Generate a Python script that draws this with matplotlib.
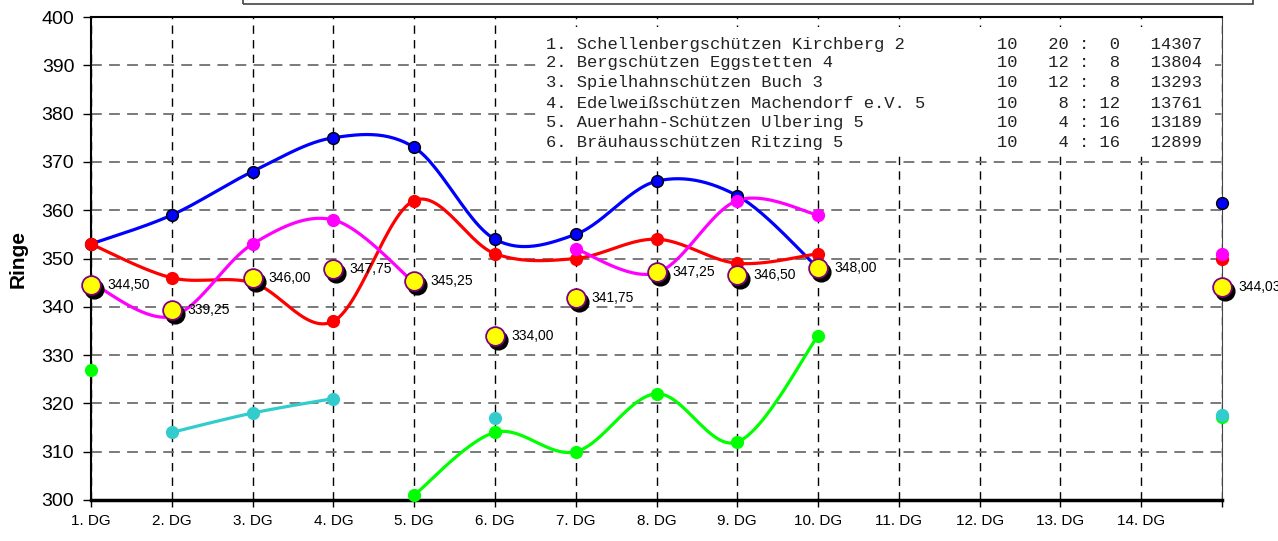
import numpy as np
import matplotlib
matplotlib.use("Agg")
import matplotlib.pyplot as plt
from matplotlib.patches import Rectangle
from matplotlib.transforms import offset_copy

plt.rcParams['font.family'] = ['Liberation Sans', 'DejaVu Sans']

# Durchgänge
rounds = list(range(1, 11))
xlabels = [f"{i}. DG" for i in range(1, 15)] + [""]
mean_pos = 15

# Ringe je Mannschaft (None = nicht geschossen)
blue = [353, 359, 368, 375, 373, 354, 355, 366, 363, 348]
red = [353, 346, 345, 337, 362, 351, 350, 354, 349, 351]
magenta = [345, 338, 353, 358, 345, None, 352, 347, 362, 359]
green = [327, None, None, None, 301, 314, 310, 322, 312, 334]
cyan = [None, 314, 318, 321, None, 317, None, None, None, None]

series = [
    (blue, '#0000FF', 'black'),
    (red, '#FF0000', '#FF0000'),
    (magenta, '#FF00FF', '#FF00FF'),
    (green, '#00FF00', '#00FF00'),
    (cyan, '#33CCCC', '#33CCCC'),
]

# Tabelle
teams = ["1. Schellenbergschützen Kirchberg 2",
         "2. Bergschützen Eggstetten 4",
         "3. Spielhahnschützen Buch 3",
         "4. Edelweißschützen Machendorf e.V. 5",
         "5. Auerhahn-Schützen Ulbering 5",
         "6. Bräuhausschützen Ritzing 5"]
played = [10, 10, 10, 10, 10, 10]
wins = [20, 12, 12, 8, 4, 4]
losses = [0, 8, 8, 12, 16, 16]
total = [14307, 13804, 13293, 13761, 13189, 12899]


def smooth(xs, ys, n=30):
    # Bezier-Glaettung wie in Excel
    xs = np.asarray(xs, float)
    ys = np.asarray(ys, float)
    if len(xs) < 2:
        return xs, ys
    px = np.r_[xs[0], xs, xs[-1]]
    py = np.r_[ys[0], ys, ys[-1]]
    t = np.linspace(0, 1, n)[:, None]
    ox, oy = [], []
    for i in range(len(xs) - 1):
        p0 = np.array([px[i + 1], py[i + 1]])
        p3 = np.array([px[i + 2], py[i + 2]])
        c1 = p0 + (np.array([px[i + 2], py[i + 2]]) - np.array([px[i], py[i]])) / 6
        c2 = p3 - (np.array([px[i + 3], py[i + 3]]) - np.array([px[i + 1], py[i + 1]])) / 6
        b = (1 - t) ** 3 * p0 + 3 * (1 - t) ** 2 * t * c1 + 3 * (1 - t) * t ** 2 * c2 + t ** 3 * p3
        ox.extend(b[:, 0])
        oy.extend(b[:, 1])
    return np.array(ox), np.array(oy)


def runs(vals):
    out, cur = [], []
    for x, v in zip(rounds, vals):
        if v is None:
            if cur:
                out.append(cur)
            cur = []
        else:
            cur.append((x, v))
    if cur:
        out.append(cur)
    return out


fig = plt.figure(figsize=(12.78, 5.41), dpi=100)
W, H = 1278, 541
ax = fig.add_axes([91 / W, 1 - 500 / H, (1222 - 91) / W, (500 - 17) / H])

ax.set_xlim(1, 15)
ax.set_ylim(300, 400)
ax.set_xticks(range(1, 16))
ax.set_xticklabels(xlabels, fontsize=11)
ax.set_yticks(range(300, 401, 10))
ax.tick_params(axis='y', labelsize=14, length=6, width=1, pad=6)
ax.tick_params(axis='x', length=5, width=1, pad=5)
ax.set_ylabel("Ringe", fontsize=15, fontweight='bold', labelpad=10)

ax.yaxis.grid(True, color='#707070', linestyle=(0, (6, 4)), linewidth=1.3)
ax.xaxis.grid(True, color='black', linestyle=(0, (6, 4.5)), linewidth=1)
ax.set_axisbelow(True)
for s in ['left', 'top']:
    ax.spines[s].set_linewidth(1.5)
ax.spines['bottom'].set_linewidth(2.5)
ax.spines['right'].set_color('#444444')

# weisser Kasten hinter der Tabelle
ax.add_patch(Rectangle((540 / W, 1 - 156 / H), (1215 - 540) / W, (156 - 27) / H,
                       transform=fig.transFigure, facecolor='white',
                       edgecolor='none', zorder=1.5))

for vals, col, edge in series:
    for r in runs(vals):
        xs, ys = zip(*r)
        sx, sy = smooth(xs, ys)
        ax.plot(sx, sy, color=col, linewidth=2.3, zorder=3, clip_on=False)
    xs = [x for x, v in zip(rounds, vals) if v is not None]
    ys = [v for v in vals if v is not None]
    ax.plot(xs, ys, 'o', color=col, markeredgecolor=edge, markersize=8.5,
            markeredgewidth=1, zorder=4, clip_on=False)
    ax.plot([mean_pos], [np.mean(ys)], 'o', color=col, markeredgecolor=edge,
            markersize=8.5, markeredgewidth=1, zorder=4, clip_on=False)

# Durchschnitt je Durchgang
arr = np.array([[np.nan if v is None else v for v in s[0]] for s in series], float)
avg = list(np.nanmean(arr, axis=0))
avg_x = rounds + [mean_pos]
avg_y = avg + [np.nanmean(arr)]

shadow = offset_copy(ax.transData, fig=fig, x=3, y=-4, units='dots')
ax.plot(avg_x, avg_y, 'o', color='black', markersize=13.5, transform=shadow,
        zorder=5, clip_on=False)
ax.plot(avg_x, avg_y, 'o', color='#FFFF00', markeredgecolor='#800080',
        markersize=13.5, markeredgewidth=1.3, zorder=6, clip_on=False)
lab = offset_copy(ax.transData, fig=fig, x=16, y=0, units='dots')
for x, y in zip(avg_x, avg_y):
    txt = f"{round(y + 1e-9, 2):.2f}".replace('.', ',')
    ax.text(x, y, txt, transform=lab, fontsize=10,
            ha='left', va='center', zorder=7, clip_on=False)

# Tabelle oben
row_y = [44, 63, 83, 103, 123, 143]
for i in range(len(teams)):
    line = f"{teams[i]:<44s}{played[i]:2d}   {wins[i]:2d} : {losses[i]:2d}   {total[i]:5d}"
    fig.text(546 / W, 1 - row_y[i] / H, line, family='Liberation Mono',
             fontsize=12.3, color='#222222', ha='left', va='center', zorder=8)

# Rahmen oben (abgeschnitten)
fig.add_artist(Rectangle((243 / W, 1 - 4 / H), (1253 - 243) / W, 0.05,
                         transform=fig.transFigure, facecolor='none',
                         edgecolor='#444444', linewidth=1.2))

fig.savefig("out.png", dpi=100)
